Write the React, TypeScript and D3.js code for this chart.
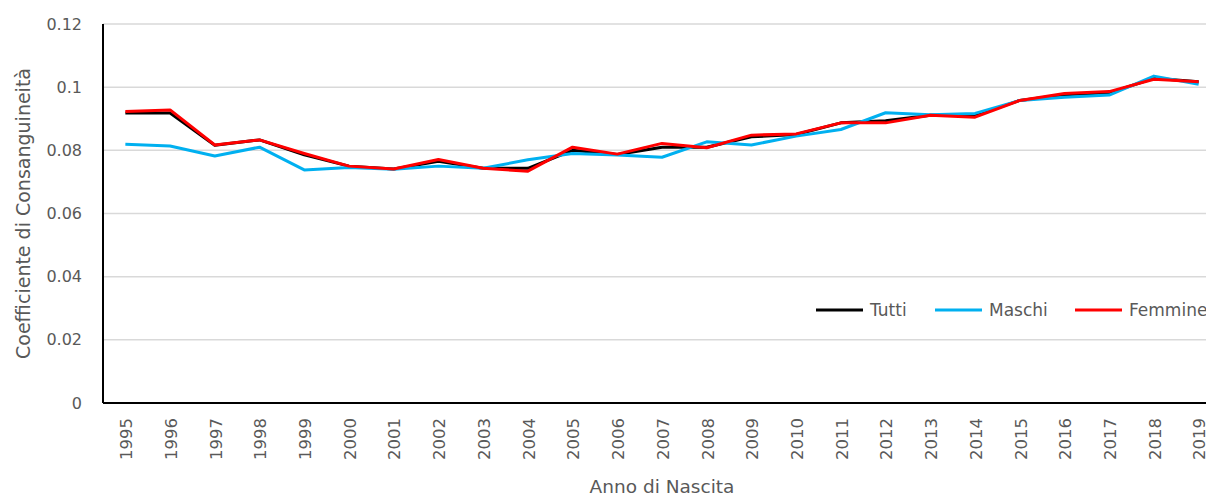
import React, { useEffect, useRef } from 'react';
import * as d3 from 'd3';

const years = ['1995','1996','1997','1998','1999','2000','2001','2002','2003','2004','2005','2006','2007','2008','2009','2010','2011','2012','2013','2014','2015','2016','2017','2018','2019'];

const tutti = [0.0918,0.0918,0.0816,0.0833,0.0786,0.0750,0.0741,0.0765,0.0743,0.0743,0.0800,0.0787,0.0810,0.0810,0.0843,0.0850,0.0887,0.0894,0.0911,0.0910,0.0958,0.0976,0.0982,0.1028,0.1017];
const maschi = [0.0819,0.0814,0.0782,0.0810,0.0738,0.0746,0.0740,0.0750,0.0743,0.0770,0.0790,0.0785,0.0778,0.0827,0.0817,0.0845,0.0866,0.0919,0.0913,0.0917,0.0958,0.0968,0.0975,0.1035,0.1009];
const femmine = [0.0923,0.0928,0.0817,0.0833,0.0790,0.0750,0.0741,0.0771,0.0743,0.0734,0.0810,0.0788,0.0822,0.0808,0.0848,0.0852,0.0887,0.0887,0.0911,0.0905,0.0958,0.0980,0.0986,0.1025,0.1017];

const yTicks = [0, 0.02, 0.04, 0.06, 0.08, 0.1, 0.12];

const seriesList = [
  { name: 'Tutti', values: tutti, color: '#000000' },
  { name: 'Maschi', values: maschi, color: '#00B0F0' },
  { name: 'Femmine', values: femmine, color: '#FF0000' },
];

const W = 1206;
const H = 496;
const FONT = '"DejaVu Sans", "Noto Sans", sans-serif';
const TEXT_COLOR = '#595959';

const App: React.FC = () => {
  const svgRef = useRef<SVGSVGElement | null>(null);

  useEffect(() => {
    if (!svgRef.current) return;
    const svg = d3.select(svgRef.current);
    svg.selectAll('*').remove();

    const left = 103, right = 1221, top = 24, bottom = 403;

    const x = d3.scalePoint<string>().domain(years).range([left, right]).padding(0.5);
    const y = d3.scaleLinear().domain([0, 0.12]).range([bottom, top]);

    // light horizontal gridlines
    svg.append('g')
      .selectAll('line')
      .data(yTicks.filter(t => t > 0))
      .enter().append('line')
      .attr('x1', left).attr('x2', right)
      .attr('y1', d => y(d)).attr('y2', d => y(d))
      .attr('stroke', '#d9d9d9').attr('stroke-width', 1.5);

    // y tick labels
    svg.append('g')
      .selectAll('text')
      .data(yTicks)
      .enter().append('text')
      .attr('x', 82)
      .attr('y', d => y(d))
      .attr('dy', '0.35em')
      .attr('text-anchor', 'end')
      .style('font-family', FONT)
      .style('font-size', '16px')
      .style('fill', TEXT_COLOR)
      .text(d => String(d));

    // x tick labels, rotated
    svg.append('g')
      .selectAll('text')
      .data(years)
      .enter().append('text')
      .attr('transform', d => `translate(${(x(d) as number) + 1},${bottom + 15}) rotate(-90)`)
      .attr('dy', '0.35em')
      .attr('text-anchor', 'end')
      .style('font-family', FONT)
      .style('font-size', '16.5px')
      .style('fill', TEXT_COLOR)
      .text(d => d);

    // axis lines
    svg.append('line')
      .attr('x1', left).attr('x2', left).attr('y1', top).attr('y2', bottom)
      .attr('stroke', '#000').attr('stroke-width', 2);
    svg.append('line')
      .attr('x1', left).attr('x2', right).attr('y1', bottom).attr('y2', bottom)
      .attr('stroke', '#000').attr('stroke-width', 2);

    // the three series
    const line = d3.line<number>()
      .x((_, i) => x(years[i]) as number)
      .y(d => y(d));

    seriesList.forEach(s => {
      svg.append('path')
        .datum(s.values)
        .attr('d', line)
        .attr('fill', 'none')
        .attr('stroke', s.color)
        .attr('stroke-width', 3)
        .attr('stroke-linejoin', 'round');
    });

    // legend inside the plot
    const legendX = [816, 935, 1075];
    const legendY = 310;
    seriesList.forEach((s, i) => {
      const g = svg.append('g');
      g.append('line')
        .attr('x1', legendX[i]).attr('x2', legendX[i] + 47)
        .attr('y1', legendY).attr('y2', legendY)
        .attr('stroke', s.color).attr('stroke-width', 3);
      g.append('text')
        .attr('x', legendX[i] + 54)
        .attr('y', legendY + 6)
        .style('font-family', FONT)
        .style('font-size', '17px')
        .style('fill', TEXT_COLOR)
        .text(s.name);
    });

    // axis titles
    svg.append('text')
      .attr('transform', `translate(30,${(top + bottom) / 2}) rotate(-90)`)
      .attr('text-anchor', 'middle')
      .style('font-family', FONT)
      .style('font-size', '19px')
      .style('fill', TEXT_COLOR)
      .text('Coefficiente di Consanguineità');

    svg.append('text')
      .attr('x', (left + right) / 2)
      .attr('y', 493)
      .attr('text-anchor', 'middle')
      .style('font-family', FONT)
      .style('font-size', '18.5px')
      .style('fill', TEXT_COLOR)
      .text('Anno di Nascita');
  }, []);

  return (
    <svg
      ref={svgRef}
      width={W}
      height={H}
      style={{ position: 'absolute', left: 0, top: 0, background: '#fff', display: 'block' }}
    />
  );
};

export default App;
